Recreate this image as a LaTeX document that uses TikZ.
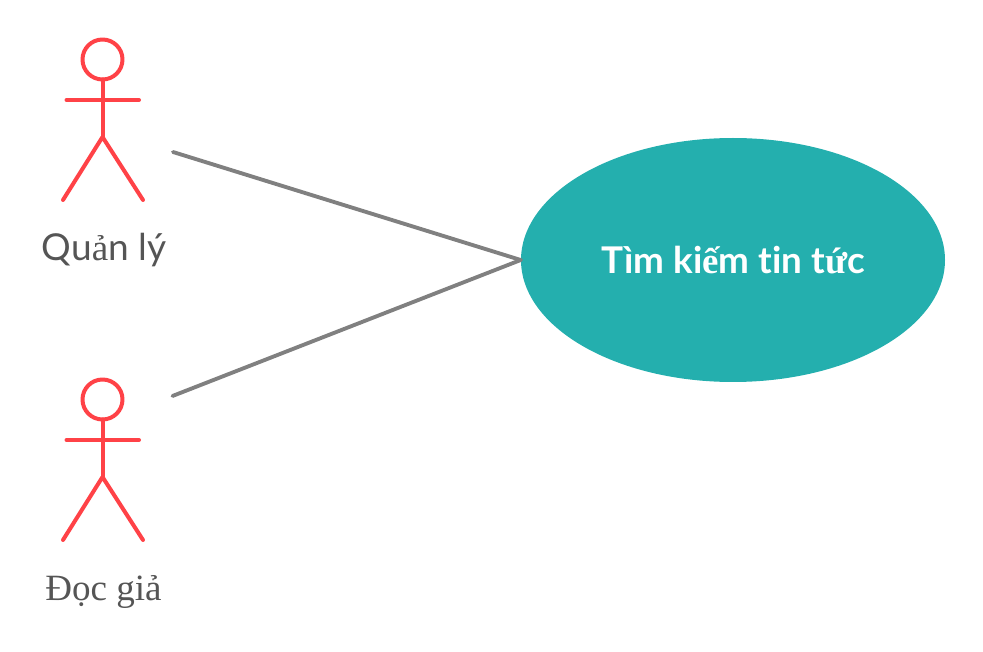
\documentclass[tikz,border=0pt]{standalone}
\usepackage{fontspec}
\setmainfont{Lato}[Ligatures=NoCommon]
\newfontfamily\fallbackserif{Liberation Serif}
\definecolor{actorred}{RGB}{255,66,71}
\definecolor{linegray}{RGB}{128,128,128}
\definecolor{usecasefill}{RGB}{36,175,174}
\definecolor{labelgray}{RGB}{85,85,85}
\tikzset{
  actorline/.style={color=actorred,line width=3pt,line cap=round,line join=round},
  assocline/.style={color=linegray,line width=2.9pt,line cap=round},
  actorlabel/.style={inner sep=0.75pt,color=labelgray,font=\fontsize{27.8}{32}\selectfont},
  usecase/.style={ellipse,fill=usecasefill,inner sep=0pt,minimum width=318pt,minimum height=183pt,text=white,font=\fontsize{27.6}{32}\bfseries\selectfont}
}
\usetikzlibrary{shapes.geometric}
\begin{document}
\begin{tikzpicture}[x=0.75pt,y=0.75pt,yscale=-1,xscale=1]
\useasboundingbox (0,0) rectangle (983,652);

%Actor: Quan ly
\draw [actorline] (102.5,59.5) circle [radius=20];
\draw [actorline] (102.5,79.5) -- (102.5,137);
\draw [actorline] (66.5,100) -- (139,100);
\draw [actorline] (63,200) -- (102.5,137) -- (143,200);
%Actor: Doc gia
\draw [actorline] (102.5,399.5) circle [radius=20];
\draw [actorline] (102.5,419.5) -- (102.5,477);
\draw [actorline] (66.5,440) -- (139,440);
\draw [actorline] (63,540) -- (102.5,477) -- (143,540);

% Text Node
\node (quanly) [actorlabel] at (104,250) {Qu{\fallbackserif ả}n lý};
% Text Node
\node (docgia) [actorlabel] at (103.5,592) {\fallbackserif Đọc giả};
% Use Case
\node (timkiem) [usecase] at (733,260) {\raisebox{-0.75pt}{Tìm ki{\fallbackserif ế}m tin t{\fallbackserif ứ}c}};

\coordinate (quanlyend) at (173,152);
\coordinate (docgiaend) at (172.5,396);
%Straight Lines
\draw [assocline] (quanlyend) -- (timkiem.west);
\draw [assocline] (docgiaend) -- (timkiem.west);
\end{tikzpicture}
\end{document}
